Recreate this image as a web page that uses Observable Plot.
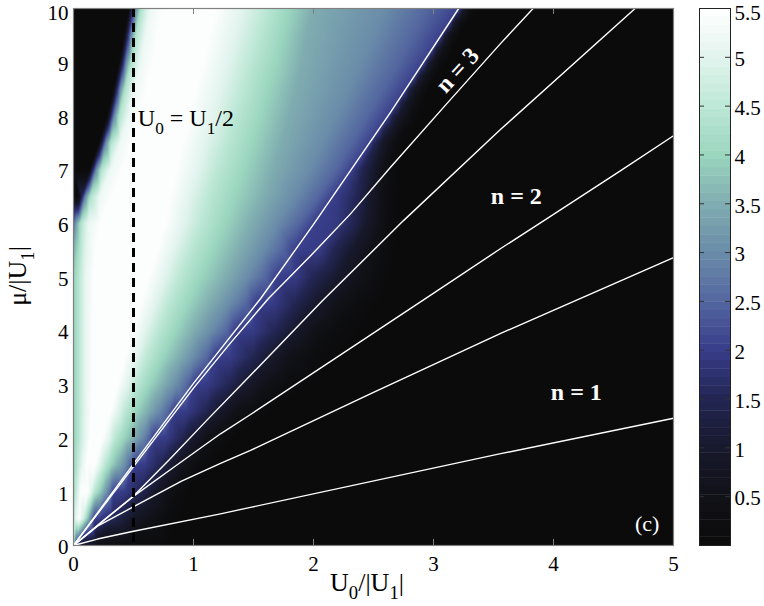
<!DOCTYPE html>
<html><head><meta charset="utf-8">
<script src="https://cdn.jsdelivr.net/npm/d3@7"></script>
<script src="https://cdn.jsdelivr.net/npm/@observablehq/plot@0.6"></script>
<style>
body{margin:0;background:#fff}
#wrap{position:relative;width:764px;height:606px}
#wrap svg{position:absolute;top:0;left:0}
</style>
</head><body><div id="wrap"></div>
<script>
// ---- axis ticks ----
const xTicks = [0, 1, 2, 3, 4, 5];
const yTicks = [0, 1, 2, 3, 4, 5, 6, 7, 8, 9, 10];
const cbTicks = [0.5, 1, 1.5, 2, 2.5, 3, 3.5, 4, 4.5, 5, 5.5];

// ---- colour map (value -> colour) ----
const cbStops = [0, 0.5, 1, 1.5, 2, 2.5, 3, 3.5, 4, 4.5, 5, 5.5];
const cbColors = ["#0b0b0c","#111218","#17192c","#232653","#383d8a","#5467a0","#6a8ca9","#80adb0","#9bd6bf","#bde8d6","#e2f4ee","#ffffff"];

// ---- field samples: one row per mu level, [U0/|U1|, value] ----
const fieldMu = [0,0.5,1,1.5,2,2.5,3,3.5,4,4.5,5,5.5,6,6.5,7,7.5,8,8.5,9,9.5,10];
const row_0  = [[0,4.0],[0.02,2.0],[0.06,1.0],[0.2,0.4],[0.5,0.1],[0.8,0],[2,0],[3.5,0],[5,0]];
const row_05 = [[0,4.4],[0.02,5.1],[0.05,5.45],[0.08,4.8],[0.11,4.0],[0.13,3.4],[0.15,2.7],[0.17,2.05],[0.22,1.95],[0.33,1.5],[0.47,1.0],[0.63,0.5],[0.78,0.15],[0.9,0],[1.5,0],[3,0],[5,0]];
const row_1  = [[0,4.0],[0.03,4.8],[0.06,5.45],[0.12,5.45],[0.15,5.0],[0.17,4.5],[0.21,4.0],[0.25,3.5],[0.28,3.0],[0.31,2.5],[0.33,2.05],[0.43,1.95],[0.55,1.5],[0.67,1.0],[0.78,0.5],[0.88,0.15],[0.97,0],[1.6,0],[3,0],[5,0]];
const row_15 = [[0,3.9],[0.04,4.6],[0.08,5.2],[0.11,5.45],[0.18,5.45],[0.22,5.0],[0.26,4.5],[0.31,4.0],[0.37,3.5],[0.43,3.0],[0.47,2.5],[0.5,2.05],[0.6,1.95],[0.72,1.5],[0.83,1.0],[0.94,0.5],[1.06,0.15],[1.16,0],[2,0],[3.5,0],[5,0]];
const row_2  = [[0,3.9],[0.05,4.5],[0.1,5.1],[0.14,5.45],[0.24,5.45],[0.3,5.0],[0.34,4.5],[0.42,4.0],[0.5,3.5],[0.57,3.0],[0.63,2.5],[0.66,2.05],[0.78,1.95],[0.9,1.5],[1.0,1.0],[1.1,0.5],[1.25,0.15],[1.35,0],[2.2,0],[3.5,0],[5,0]];
const row_25 = [[0,3.9],[0.05,4.5],[0.1,5.1],[0.15,5.45],[0.31,5.45],[0.37,5.0],[0.43,4.5],[0.52,4.0],[0.62,3.5],[0.71,3.0],[0.79,2.5],[0.83,2.05],[0.95,1.95],[1.1,1.5],[1.22,1.0],[1.35,0.5],[1.52,0.15],[1.65,0],[2.5,0],[3.8,0],[5,0]];
const row_3  = [[0,3.9],[0.05,4.5],[0.1,5.1],[0.16,5.45],[0.37,5.45],[0.45,5.0],[0.52,4.5],[0.63,4.0],[0.75,3.5],[0.86,3.0],[0.95,2.5],[1.0,2.05],[1.12,1.95],[1.3,1.5],[1.45,1.0],[1.6,0.5],[1.8,0.15],[2.0,0],[3,0],[4,0],[5,0]];
const row_35 = [[0,3.9],[0.05,4.5],[0.1,5.1],[0.16,5.45],[0.43,5.45],[0.53,5.0],[0.61,4.5],[0.74,4.0],[0.88,3.5],[1.0,3.0],[1.11,2.5],[1.17,2.05],[1.31,1.95],[1.49,1.5],[1.65,1.0],[1.8,0.5],[2.0,0.15],[2.2,0],[3.2,0],[4.2,0],[5,0]];
const row_4  = [[0,3.9],[0.05,4.5],[0.1,5.1],[0.16,5.45],[0.5,5.45],[0.6,5.0],[0.7,4.5],[0.85,4.0],[1.0,3.5],[1.15,3.0],[1.28,2.5],[1.34,2.05],[1.5,1.95],[1.68,1.5],[1.85,1.0],[2.0,0.5],[2.2,0.15],[2.4,0],[3.3,0],[4.2,0],[5,0]];
const row_45 = [[0,3.9],[0.05,4.5],[0.1,5.1],[0.17,5.45],[0.56,5.45],[0.68,5.0],[0.79,4.5],[0.95,4.0],[1.13,3.5],[1.3,3.0],[1.44,2.5],[1.51,2.05],[1.67,1.95],[1.84,1.5],[2.02,1.0],[2.2,0.5],[2.38,0.15],[2.55,0],[3.4,0],[4.2,0],[5,0]];
const row_5  = [[0,3.9],[0.05,4.5],[0.1,5.1],[0.17,5.45],[0.63,5.45],[0.76,5.0],[0.88,4.5],[1.06,4.0],[1.27,3.5],[1.45,3.0],[1.6,2.5],[1.69,2.05],[1.85,1.95],[2.0,1.5],[2.2,1.0],[2.4,0.5],[2.55,0.15],[2.65,0],[3.5,0],[4.3,0],[5,0]];
const row_55 = [[0,3.5],[0.05,4.3],[0.1,5.0],[0.18,5.45],[0.7,5.45],[0.84,5.0],[0.97,4.5],[1.16,4.0],[1.38,3.5],[1.58,3.0],[1.74,2.5],[1.84,2.05],[2.05,1.95],[2.17,1.5],[2.32,1.0],[2.47,0.5],[2.6,0.15],[2.68,0],[3.5,0],[4.3,0],[5,0]];
const row_6  = [[0,2.5],[0.03,3.5],[0.06,4.3],[0.12,5.1],[0.22,5.45],[0.77,5.45],[0.92,5.0],[1.06,4.5],[1.26,4.0],[1.48,3.5],[1.7,3.0],[1.88,2.5],[2.0,2.05],[2.2,1.9],[2.33,1.5],[2.44,1.0],[2.55,0.5],[2.63,0.15],[2.7,0],[3.5,0],[4.3,0],[5,0]];
const row_65 = [[0,0],[0.04,0],[0.07,1.5],[0.1,3.0],[0.14,4.3],[0.22,5.2],[0.32,5.45],[0.8,5.45],[0.97,5.0],[1.12,4.5],[1.34,4.0],[1.59,3.5],[1.84,3.0],[2.04,2.5],[2.16,2.05],[2.22,1.9],[2.36,1.5],[2.47,1.0],[2.56,0.5],[2.64,0.15],[2.7,0],[3.5,0],[4.3,0],[5,0]];
const row_7  = [[0,0],[0.13,0],[0.16,1.5],[0.19,3.0],[0.23,4.3],[0.31,5.2],[0.41,5.45],[0.86,5.45],[1.04,5.0],[1.19,4.5],[1.42,4.0],[1.66,3.5],[1.97,3.0],[2.19,2.5],[2.32,2.05],[2.34,1.9],[2.4,1.5],[2.5,1.0],[2.58,0.5],[2.65,0.15],[2.72,0],[3.5,0],[4.3,0],[5,0]];
const row_75 = [[0,0],[0.21,0],[0.24,1.5],[0.27,3.0],[0.31,4.3],[0.39,5.2],[0.49,5.45],[0.91,5.45],[1.1,5.0],[1.27,4.5],[1.49,4.0],[1.73,3.5],[2.08,3.0],[2.32,2.5],[2.47,2.05],[2.51,1.5],[2.57,1.0],[2.64,0.5],[2.7,0.15],[2.78,0],[3.5,0],[4.3,0],[5,0]];
const row_8  = [[0,0],[0.28,0],[0.31,1.5],[0.34,3.0],[0.38,4.3],[0.46,5.2],[0.56,5.45],[0.97,5.45],[1.17,5.0],[1.34,4.5],[1.56,4.0],[1.79,3.5],[2.19,3.0],[2.45,2.5],[2.62,2.05],[2.66,1.4],[2.72,0.9],[2.78,0.5],[2.83,0.15],[2.88,0],[3.6,0],[4.3,0],[5,0]];
const row_85 = [[0,0],[0.33,0],[0.36,1.5],[0.39,3.0],[0.43,4.3],[0.51,5.2],[0.61,5.45],[1.02,5.45],[1.23,5.0],[1.41,4.5],[1.62,4.0],[1.85,3.5],[2.3,3.0],[2.58,2.5],[2.77,2.05],[2.8,1.3],[2.85,0.8],[2.9,0.4],[2.97,0],[3.6,0],[4.3,0],[5,0]];
const row_9  = [[0,0],[0.38,0],[0.41,1.5],[0.44,3.0],[0.48,4.3],[0.56,5.2],[0.66,5.45],[1.08,5.45],[1.29,5.0],[1.47,4.5],[1.69,4.0],[1.9,3.5],[2.4,3.0],[2.71,2.5],[2.92,2.05],[2.96,1.2],[3.01,0.6],[3.06,0.2],[3.12,0],[3.7,0],[4.4,0],[5,0]];
const row_95 = [[0,0],[0.42,0],[0.45,1.5],[0.48,3.0],[0.52,4.3],[0.6,5.2],[0.7,5.45],[1.13,5.45],[1.35,5.0],[1.54,4.5],[1.74,4.0],[1.94,3.5],[2.5,3.0],[2.83,2.5],[3.06,2.05],[3.1,1.05],[3.15,0.45],[3.22,0],[3.8,0],[4.4,0],[5,0]];
const row_10 = [[0,0],[0.46,0],[0.49,1.5],[0.52,3.0],[0.56,4.3],[0.64,5.2],[0.74,5.45],[1.19,5.45],[1.41,5.0],[1.6,4.5],[1.8,4.0],[1.99,3.5],[2.6,3.0],[2.95,2.5],[3.21,2.05],[3.25,1.0],[3.3,0.4],[3.36,0],[3.9,0],[4.5,0],[5,0]];
const fieldRows = [row_0,row_05,row_1,row_15,row_2,row_25,row_3,row_35,row_4,row_45,row_5,row_55,row_6,row_65,row_7,row_75,row_8,row_85,row_9,row_95,row_10];

// extra samples along the sharp right edge of the coloured band (upper part)
const fieldMuQ = [6.25, 6.75, 7.25, 7.75, 8.25, 8.75, 9.25, 9.75];
const rowQ_625 = [[1.77,3.0],[1.96,2.5],[2.08,2.05],[2.21,1.9],[2.345,1.5],[2.455,1.0],[2.555,0.5],[2.635,0.15],[2.7,0],[4.0,0],[5,0]];
const rowQ_675 = [[1.905,3.0],[2.115,2.5],[2.24,2.05],[2.28,1.9],[2.38,1.5],[2.485,1.0],[2.57,0.5],[2.645,0.15],[2.71,0],[4.0,0],[5,0]];
const rowQ_725 = [[2.025,3.0],[2.255,2.5],[2.4,2.05],[2.455,1.5],[2.535,1.0],[2.61,0.5],[2.675,0.15],[2.75,0],[4.0,0],[5,0]];
const rowQ_775 = [[2.135,3.0],[2.385,2.5],[2.545,2.05],[2.585,1.45],[2.645,1.0],[2.71,0.5],[2.765,0.15],[2.83,0],[4.0,0],[5,0]];
const rowQ_825 = [[2.245,3.0],[2.515,2.5],[2.695,2.05],[2.73,1.35],[2.785,0.85],[2.84,0.45],[2.92,0],[4.1,0],[5,0]];
const rowQ_875 = [[2.35,3.0],[2.645,2.5],[2.845,2.05],[2.88,1.25],[2.93,0.7],[2.98,0.3],[3.04,0],[4.1,0],[5,0]];
const rowQ_925 = [[2.45,3.0],[2.77,2.5],[2.99,2.05],[3.03,1.1],[3.08,0.5],[3.13,0.2],[3.17,0],[4.2,0],[5,0]];
const rowQ_975 = [[2.55,3.0],[2.89,2.5],[3.135,2.05],[3.175,0.95],[3.22,0.4],[3.29,0],[4.2,0],[5,0]];
const fieldRowsQ = [rowQ_625,rowQ_675,rowQ_725,rowQ_775,rowQ_825,rowQ_875,rowQ_925,rowQ_975];

// ---- white contour lines [U0/|U1|, mu/|U1|] ----
const line1 = [[0,0],[0.5,1.52],[1,3.02],[1.56,4.6],[2.0,5.98],[2.64,8.06],[3.21,10]];
const line2 = [[0,0],[0.5,1.47],[1,2.93],[1.3,3.75],[1.625,4.6],[2.0,5.45],[2.31,6.18],[2.64,7.04],[3.1,8.2],[3.56,9.35],[3.83,10]];
const line3 = [[0,0],[0.25,0.46],[0.49,0.9],[0.8,1.6],[1.11,2.33],[1.475,3.17],[2.07,4.55],[2.75,6.05],[3.56,7.75],[4.68,10]];
const line4 = [[0,0],[0.25,0.47],[0.49,0.9],[0.85,1.48],[1.225,2.08],[1.475,2.44],[2.92,4.58],[3.56,5.53],[3.92,6.05],[4.56,6.98],[5,7.63]];
const line5 = [[0,0],[0.2,0.36],[0.49,0.71],[0.9,1.2],[1.225,1.53],[1.475,1.77],[2.5,2.85],[3.56,3.95],[5,5.36]];
const line6 = [[0,0],[0.2,0.12],[0.49,0.26],[1.225,0.59],[1.475,0.71],[3.56,1.71],[5,2.37]];
const contourLines = [line1, line2, line3, line4, line5, line6];

// ---- annotations ----
const nLabels = ["n = 1", "n = 2", "n = 3"];
const nX = [4.19, 3.69, 3.2];
const nY = [2.85, 6.5, 8.85];
const nRot = [0, 0, -47];
const dashedX = [0.5];
const panelLabel = ["(c)"];
const panelX = [4.78], panelY = [0.41];
const noteX = 0.54, noteY = 7.8;

const field = [];
fieldRows.forEach((row, i) => row.forEach(([x, v]) => field.push({x, y: fieldMu[i], v})));
fieldRowsQ.forEach((row, i) => row.forEach(([x, v]) => field.push({x, y: fieldMuQ[i], v})));

const colorScale = {type: "linear", domain: cbStops, range: cbColors, clamp: true};
const serif = "'Liberation Serif', 'Times New Roman', serif";
const tickFont = {fontSize: 21, fontFamily: serif, label: null, tickSize: 0, tickFormat: d => String(d)};

const main = Plot.plot({
  width: 764, height: 606,
  marginLeft: 73, marginRight: 91, marginTop: 8, marginBottom: 61,
  x: {domain: [0, 5], axis: null},
  y: {domain: [0, 10], axis: null},
  color: colorScale,
  style: {background: "transparent", fontFamily: serif, fontSize: "21px", color: "black"},
  marks: [
    Plot.raster(field, {x: "x", y: "y", fill: "v", interpolate: "barycentric"}),
    ...contourLines.map(L => Plot.line(L, {x: d => d[0], y: d => d[1], stroke: "#ffffff", strokeWidth: 1.4})),
    Plot.ruleX(dashedX, {stroke: "#000", strokeWidth: 3, strokeDasharray: "9,6"}),
    Plot.tickX(xTicks.slice(1, -1), {x: d => d, stroke: "#808080", insetTop: 531}),
    Plot.tickX(xTicks.slice(1, -1), {x: d => d, stroke: "#808080", insetBottom: 531}),
    Plot.frame({stroke: "#808080", strokeWidth: 1.2}),
    Plot.axisX(xTicks, {anchor: "bottom", tickPadding: 11, ...tickFont}),
    Plot.axisY(yTicks.slice(0, -1), {anchor: "left", tickPadding: 5, dy: 2, ...tickFont}),
    Plot.axisY(yTicks.slice(-1), {anchor: "left", tickPadding: 5, dy: 5, ...tickFont}),
    Plot.text(nLabels, {x: (d, i) => nX[i], y: (d, i) => nY[i], rotate: (d, i) => nRot[i], text: d => d,
      fill: "white", fontWeight: "bold", fontSize: 24, fontFamily: serif}),
    Plot.text(panelLabel, {x: (d, i) => panelX[i], y: (d, i) => panelY[i], text: d => d,
      fill: "white", fontSize: 22, fontFamily: serif})
  ]
});

const step = 5.5 / 64;
const cbLevels = d3.range(64).map(i => i * step);
const cb = Plot.plot({
  width: 764, height: 606,
  marginLeft: 699, marginRight: 34, marginTop: 8, marginBottom: 61,
  y: {domain: [0, 5.5], axis: null},
  color: colorScale,
  style: {background: "transparent", fontFamily: serif, fontSize: "21px", color: "black"},
  marks: [
    Plot.rect(cbLevels, {y1: d => d, y2: d => Math.min(5.5, d + step * 1.05), fill: d => d + step / 2}),
    Plot.tickY(cbTicks.slice(0, -1), {y: d => d, stroke: "#333", insetRight: 26}),
    Plot.tickY(cbTicks.slice(0, -1), {y: d => d, stroke: "#333", insetLeft: 26}),
    Plot.frame({stroke: "#222"}),
    Plot.axisY(cbTicks.slice(0, -1), {anchor: "right", tickPadding: 4, dy: 2, ...tickFont}),
    Plot.axisY(cbTicks.slice(-1), {anchor: "right", tickPadding: 4, dy: 5, ...tickFont})
  ]
});

const wrap = document.getElementById("wrap");
wrap.appendChild(main);
wrap.appendChild(cb);

// rich text with subscripts
function rich(parent, attrs, parts, size) {
  const t = parent.append("text").attr("font-family", serif).attr("font-size", size).attr("fill", "black");
  Object.entries(attrs).forEach(([k, v]) => t.attr(k, v));
  let shift = 0;
  const drop = size * 0.32;
  parts.forEach(p => {
    const target = p.sub ? drop : 0;
    const ts = t.append("tspan").attr("dy", target - shift).text(p.t);
    if (p.sub) ts.attr("font-size", size * 0.72);
    shift = target;
  });
  return t;
}
const svg = d3.select(main);
const sx = main.scale("x"), sy = main.scale("y");
rich(svg, {x: 367, y: 591, "text-anchor": "middle"},
  [{t: "U"}, {t: "0", sub: 1}, {t: "/|U"}, {t: "1", sub: 1}, {t: "|"}], 26);
rich(svg, {transform: "translate(26,276) rotate(-90)", "text-anchor": "middle"},
  [{t: "μ/|U"}, {t: "1", sub: 1}, {t: "|"}], 26);
rich(svg, {x: sx.apply(noteX), y: sy.apply(noteY), "text-anchor": "start"},
  [{t: "U"}, {t: "0", sub: 1}, {t: " = U"}, {t: "1", sub: 1}, {t: "/2"}], 24);
</script></body></html>
